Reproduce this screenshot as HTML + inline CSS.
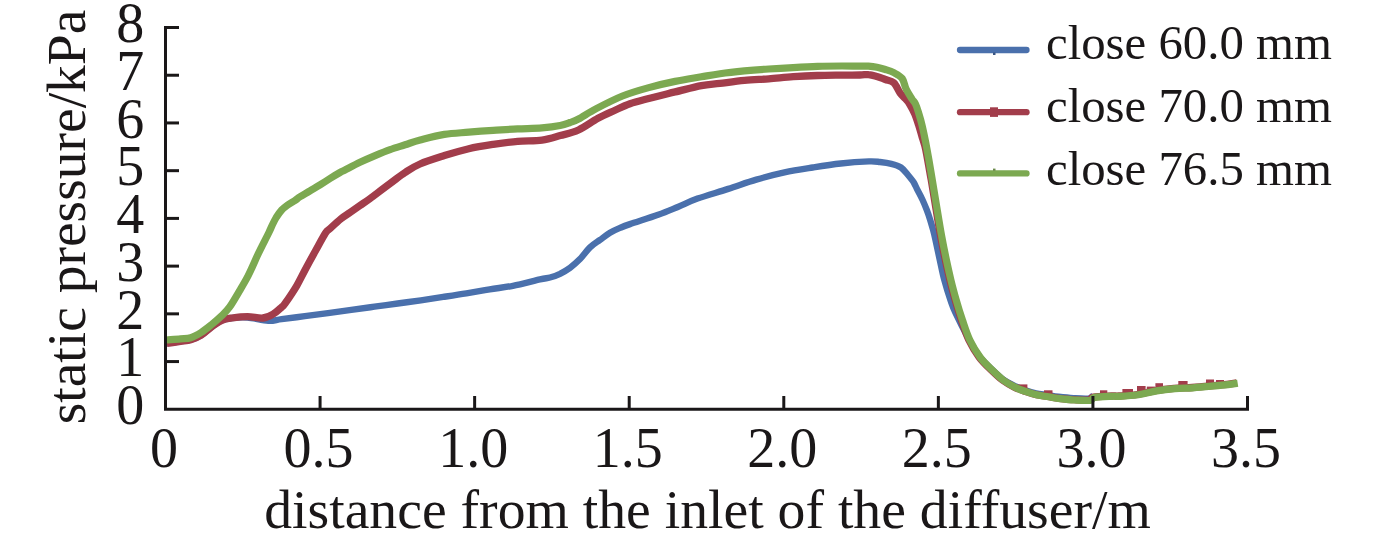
<!DOCTYPE html>
<html><head><meta charset="utf-8"><style>
html,body{margin:0;padding:0;background:#fff;width:1378px;height:533px;overflow:hidden}
svg{display:block}
text{font-family:"Liberation Serif",serif;fill:#1a1718}
</style></head><body>
<svg width="1378" height="533" viewBox="0 0 1378 533">
<g fill="none" stroke-linejoin="round" stroke-linecap="butt" stroke-width="7">
<path stroke="#4a70ac" stroke-width="6.4" d="M166.8,343.5 C169.1,343.1 176.5,342.0 180.5,341.4 C184.5,340.8 187.4,340.8 190.8,339.8 C194.2,338.8 197.7,337.3 201.1,335.2 C204.5,333.1 207.9,329.5 211.4,327.0 C214.9,324.5 218.4,321.8 221.8,320.3 C225.2,318.8 227.8,318.5 232.1,318.0 C236.4,317.5 241.6,317.0 247.6,317.5 C253.6,318.0 262.5,320.5 268.2,320.8 C273.9,321.1 275.5,319.9 281.6,319.1 C287.7,318.3 297.1,317.2 304.8,316.2 C312.5,315.2 320.2,314.2 328.0,313.1 C335.8,312.0 343.6,310.9 351.3,309.8 C359.1,308.7 366.8,307.8 374.5,306.7 C382.2,305.6 390.0,304.6 397.7,303.5 C405.4,302.4 413.3,301.4 420.9,300.3 C428.5,299.2 435.6,298.0 443.2,296.9 C450.8,295.8 458.6,294.7 466.4,293.4 C474.1,292.1 481.9,290.6 489.7,289.3 C497.4,288.0 504.5,287.5 512.9,285.8 C521.3,284.1 533.8,280.8 540.0,279.4 C546.2,278.0 546.7,278.4 550.0,277.5 C553.3,276.6 556.7,275.4 560.0,273.8 C563.3,272.1 566.7,270.2 570.0,267.8 C573.3,265.3 576.7,262.5 580.0,259.1 C583.3,255.7 586.7,250.6 590.0,247.4 C593.3,244.2 596.7,242.3 600.0,239.9 C603.3,237.5 606.7,234.8 610.0,232.8 C613.3,230.8 616.7,229.3 620.0,227.9 C623.3,226.5 623.6,226.3 630.0,224.1 C636.4,221.9 650.1,217.7 658.1,214.8 C666.1,212.0 671.2,209.7 677.8,207.0 C684.4,204.3 689.1,201.6 697.5,198.6 C705.9,195.6 718.4,192.1 728.2,188.9 C738.0,185.8 746.9,182.4 756.3,179.7 C765.7,176.9 775.1,174.4 784.5,172.4 C793.9,170.4 803.3,169.0 812.7,167.5 C822.1,166.0 831.4,164.5 840.8,163.5 C850.2,162.5 862.5,161.7 869.0,161.4 C875.5,161.2 876.3,161.6 880.0,162.0 C883.7,162.4 887.8,162.9 891.3,163.8 C894.8,164.7 898.2,165.6 901.0,167.5 C903.8,169.4 905.9,172.5 908.0,175.0 C910.1,177.5 912.2,180.0 913.8,182.5 C915.3,185.0 916.0,187.1 917.5,190.0 C919.0,192.9 921.1,196.7 922.6,200.0 C924.1,203.3 925.5,206.7 926.8,210.0 C928.1,213.3 929.2,216.7 930.2,220.0 C931.2,223.3 932.2,226.7 933.1,230.0 C934.0,233.3 934.4,235.0 935.5,240.0 C936.6,245.0 938.3,253.3 939.8,260.0 C941.3,266.7 942.5,273.3 944.3,280.0 C946.1,286.7 948.5,294.5 950.4,300.0 C952.3,305.5 952.5,306.6 955.5,313.0 C958.5,319.4 964.4,331.1 968.3,338.2 C972.2,345.3 975.0,350.6 978.8,355.7 C982.6,360.8 987.1,364.8 991.0,368.6 C994.9,372.4 998.5,375.9 1002.2,378.7 C1006.0,381.5 1009.8,383.5 1013.5,385.4 C1017.2,387.3 1021.0,388.6 1024.7,389.9 C1028.5,391.2 1032.2,392.4 1036.0,393.3 C1039.8,394.2 1043.5,394.4 1047.2,395.0 C1051.0,395.6 1054.1,396.3 1058.5,396.8 C1062.9,397.3 1068.5,397.9 1073.5,398.2 C1078.5,398.5 1085.2,399.0 1088.5,398.6 C1091.8,398.2 1092.3,396.1 1093.1,395.6"/>
<path stroke="#a23d4b" stroke-width="7.3" d="M166.8,343.5 C169.1,343.1 176.5,342.0 180.5,341.4 C184.5,340.8 187.4,340.8 190.8,339.8 C194.2,338.8 197.7,337.3 201.1,335.2 C204.5,333.1 207.9,329.5 211.4,327.0 C214.9,324.5 218.4,321.8 221.8,320.3 C225.2,318.8 227.8,318.6 232.1,318.0 C236.4,317.4 242.4,316.7 247.6,316.7 C252.8,316.7 258.7,318.5 263.0,318.0 C267.3,317.5 270.3,315.7 273.4,313.9 C276.5,312.1 279.6,309.0 281.6,307.2 C283.6,305.4 282.8,306.8 285.3,303.2 C287.8,299.6 293.4,291.4 296.7,285.8 C300.0,280.2 302.2,275.3 305.3,269.5 C308.4,263.7 312.0,257.1 315.4,251.0 C318.8,244.9 323.1,236.7 325.5,233.0 C327.9,229.3 327.5,230.9 330.0,228.6 C332.5,226.3 337.4,221.7 340.7,219.0 C344.0,216.3 346.8,214.8 350.0,212.6 C353.2,210.3 356.7,207.8 360.0,205.5 C363.3,203.2 365.0,202.3 370.0,198.6 C375.0,194.9 384.2,187.8 390.1,183.5 C396.0,179.2 400.1,175.8 405.1,172.5 C410.1,169.2 413.4,166.8 420.0,164.0 C426.6,161.2 436.3,158.2 444.4,155.6 C452.5,153.0 460.7,150.6 468.8,148.7 C476.9,146.8 485.1,145.6 493.2,144.4 C501.3,143.2 509.5,142.0 517.6,141.3 C525.7,140.6 534.9,141.1 542.0,140.1 C549.1,139.1 554.1,137.3 560.2,135.6 C566.3,133.9 572.2,132.9 578.5,130.0 C584.8,127.1 592.0,121.5 598.0,118.3 C604.0,115.0 609.2,112.9 614.5,110.5 C619.8,108.1 624.3,105.8 630.0,103.8 C635.7,101.8 641.3,100.5 648.8,98.5 C656.3,96.5 666.3,94.1 675.1,91.9 C683.9,89.8 693.9,87.0 701.4,85.6 C708.9,84.2 712.8,84.3 720.0,83.4 C727.2,82.5 736.3,81.2 744.4,80.4 C752.5,79.6 760.7,79.4 768.8,78.8 C776.9,78.2 785.1,77.2 793.2,76.7 C801.3,76.2 809.5,75.8 817.6,75.5 C825.7,75.2 834.9,75.2 842.0,75.1 C849.1,75.0 855.6,75.1 860.0,75.0 C864.4,74.9 865.6,74.3 868.4,74.6 C871.2,74.8 874.1,75.7 876.9,76.5 C879.7,77.3 882.5,78.5 885.3,79.5 C888.1,80.5 891.3,80.5 893.8,82.8 C896.3,85.0 898.1,90.3 900.1,93.0 C902.1,95.7 904.0,97.1 905.6,98.9 C907.2,100.7 908.1,101.5 909.6,104.0 C911.1,106.5 913.2,110.3 914.7,113.8 C916.2,117.3 917.3,120.9 918.6,125.0 C919.9,129.1 921.4,134.4 922.6,138.6 C923.8,142.8 924.4,143.2 925.8,150.0 C927.2,156.8 929.7,171.4 931.2,179.7 C932.6,188.0 933.4,193.0 934.5,199.7 C935.6,206.4 936.7,213.0 937.8,219.7 C938.9,226.4 940.0,233.0 941.3,239.7 C942.5,246.4 943.9,253.0 945.3,259.7 C946.7,266.4 948.2,273.0 949.8,279.7 C951.4,286.4 953.2,293.0 955.1,299.7 C957.0,306.4 959.0,313.0 961.3,319.7 C963.6,326.4 965.7,333.4 968.7,339.7 C971.7,345.9 975.4,352.1 979.2,357.2 C983.0,362.3 987.5,366.3 991.4,370.1 C995.3,373.9 998.9,377.4 1002.6,380.2 C1006.4,383.0 1010.1,385.0 1013.9,386.9 C1017.6,388.8 1021.4,390.1 1025.1,391.4 C1028.9,392.7 1032.7,393.9 1036.4,394.8 C1040.2,395.7 1043.9,395.9 1047.6,396.5 C1051.4,397.1 1054.5,397.8 1058.9,398.3 C1063.3,398.8 1068.9,399.4 1073.9,399.7 C1078.9,400.0 1085.6,400.5 1088.9,400.1 C1092.2,399.7 1089.7,397.8 1093.5,397.1 C1097.3,396.4 1107.3,396.2 1111.5,396.0 C1115.7,395.8 1114.6,396.2 1118.9,396.0 C1123.2,395.8 1131.1,395.4 1137.2,394.5 C1143.3,393.6 1149.4,391.6 1155.5,390.6 C1161.6,389.6 1167.7,388.9 1173.8,388.4 C1179.9,387.9 1186.0,387.9 1192.1,387.5 C1198.2,387.1 1204.3,386.5 1210.4,385.9 C1216.5,385.3 1224.3,384.6 1228.7,384.1 C1233.1,383.6 1235.3,383.1 1236.6,382.9"/>
<g fill="#a23d4b" stroke="none"><rect x="1044" y="390.3" width="8.5" height="8"/><rect x="1100" y="390.3" width="7.3" height="8"/><rect x="1122.4" y="389" width="10.6" height="8"/><rect x="1137" y="386" width="8.6" height="8"/><rect x="1146.8" y="386.6" width="8.2" height="8"/><rect x="1155.4" y="383.2" width="7.6" height="8"/><rect x="1178.3" y="381" width="9.3" height="8"/><rect x="1206" y="379.5" width="8.0" height="8"/><rect x="1216" y="380" width="8.0" height="8"/><rect x="1018.4" y="384.4" width="9.0" height="8"/></g>
<path stroke="#7ca951" stroke-width="7.2" d="M166.8,340.0 C169.1,339.8 176.5,339.3 180.5,338.9 C184.5,338.5 187.4,338.8 190.8,337.7 C194.2,336.6 197.7,334.6 201.1,332.5 C204.5,330.4 207.9,327.6 211.4,324.8 C214.9,322.0 218.8,318.6 221.8,315.7 C224.8,312.8 226.6,311.2 229.5,307.2 C232.4,303.1 236.1,296.7 239.2,291.4 C242.3,286.1 245.3,281.2 248.2,275.6 C251.1,270.0 254.4,262.2 256.5,257.6 C258.6,253.1 258.8,252.5 260.9,248.3 C263.0,244.1 267.0,236.4 268.9,232.5 C270.8,228.6 271.1,227.5 272.3,225.0 C273.5,222.5 274.7,220.0 276.2,217.5 C277.8,215.0 279.8,212.1 281.7,210.0 C283.6,207.9 285.3,206.7 287.5,205.1 C289.7,203.5 292.9,201.9 295.0,200.5 C297.1,199.1 297.5,198.4 300.0,196.8 C302.5,195.2 306.7,192.9 310.0,190.9 C313.3,188.9 316.7,187.0 320.0,184.9 C323.3,182.8 326.7,180.6 330.0,178.5 C333.3,176.4 337.5,173.9 340.0,172.5 C342.5,171.1 341.7,171.7 345.0,170.0 C348.3,168.3 355.0,164.7 360.0,162.3 C365.0,159.9 370.1,157.7 375.1,155.6 C380.1,153.5 385.1,151.4 390.1,149.6 C395.1,147.8 400.1,146.4 405.1,144.8 C410.1,143.2 413.6,141.7 420.2,140.0 C426.8,138.3 436.3,135.7 444.4,134.4 C452.5,133.1 460.7,132.9 468.8,132.2 C476.9,131.5 485.1,130.9 493.2,130.4 C501.3,129.9 509.5,129.3 517.6,128.9 C525.7,128.5 534.9,128.5 542.0,127.9 C549.1,127.3 555.5,126.4 560.2,125.5 C564.9,124.6 567.0,123.6 570.0,122.5 C573.0,121.4 574.1,121.3 578.5,119.0 C582.9,116.7 589.0,112.4 596.3,108.6 C603.6,104.8 613.8,99.5 622.5,96.0 C631.2,92.5 640.0,90.0 648.8,87.6 C657.6,85.2 666.3,83.2 675.1,81.4 C683.9,79.6 693.9,78.1 701.4,76.8 C708.9,75.5 712.8,74.7 720.0,73.7 C727.2,72.7 736.3,71.7 744.4,70.9 C752.5,70.1 760.7,69.5 768.8,69.0 C776.9,68.5 785.1,68.0 793.2,67.6 C801.3,67.1 809.5,66.6 817.6,66.3 C825.7,66.0 834.9,66.0 842.0,66.0 C849.1,66.0 855.6,66.2 860.0,66.2 C864.4,66.2 865.6,66.0 868.4,66.2 C871.2,66.4 874.1,66.7 876.9,67.2 C879.7,67.8 882.5,68.6 885.3,69.5 C888.1,70.4 891.0,71.2 893.8,72.7 C896.6,74.2 900.2,75.8 902.2,78.5 C904.2,81.2 904.4,85.4 906.0,88.8 C907.6,92.2 910.3,96.4 911.9,98.9 C913.5,101.4 914.3,101.5 915.5,104.0 C916.7,106.5 917.8,110.3 918.9,113.8 C920.0,117.3 921.0,120.6 922.0,125.0 C923.0,129.4 924.1,134.2 925.2,140.0 C926.4,145.8 927.7,153.3 928.9,160.0 C930.1,166.7 931.2,173.3 932.3,180.0 C933.4,186.7 934.5,193.3 935.6,200.0 C936.7,206.7 937.8,213.3 938.9,220.0 C940.0,226.7 941.1,233.3 942.4,240.0 C943.6,246.7 945.0,253.3 946.4,260.0 C947.8,266.7 949.3,273.3 950.9,280.0 C952.5,286.7 954.3,293.3 956.2,300.0 C958.1,306.7 960.1,313.3 962.4,320.0 C964.7,326.7 966.8,333.8 969.8,340.0 C972.8,346.2 976.5,352.4 980.3,357.5 C984.1,362.6 988.6,366.6 992.5,370.4 C996.4,374.2 1000.0,377.7 1003.7,380.5 C1007.5,383.3 1011.2,385.3 1015.0,387.2 C1018.8,389.1 1022.5,390.4 1026.2,391.7 C1030.0,393.0 1033.8,394.2 1037.5,395.1 C1041.2,396.0 1045.0,396.2 1048.7,396.8 C1052.5,397.4 1055.6,398.1 1060.0,398.6 C1064.4,399.1 1070.0,399.7 1075.0,400.0 C1080.0,400.3 1086.7,400.8 1090.0,400.4 C1093.3,400.0 1090.8,398.1 1094.6,397.4 C1098.4,396.7 1108.4,396.5 1112.6,396.3 C1116.8,396.1 1115.7,396.6 1120.0,396.3 C1124.3,396.1 1132.2,395.7 1138.3,394.8 C1144.4,393.9 1150.5,391.9 1156.6,390.9 C1162.7,389.9 1168.8,389.2 1174.9,388.7 C1181.0,388.2 1187.1,388.2 1193.2,387.8 C1199.3,387.4 1205.4,386.8 1211.5,386.2 C1217.6,385.6 1225.4,384.9 1229.8,384.4 C1234.2,383.9 1236.4,383.4 1237.7,383.2"/>
</g>
<g stroke="#1a1718" stroke-width="3" fill="none">
<polyline points="179,27.5 165.5,27.5 165.5,409.3 1247.5,409.3 1247.5,396"/>
<line x1="165.5" y1="361.57" x2="179" y2="361.57"/><line x1="165.5" y1="313.85" x2="179" y2="313.85"/><line x1="165.5" y1="266.12" x2="179" y2="266.12"/><line x1="165.5" y1="218.40" x2="179" y2="218.40"/><line x1="165.5" y1="170.68" x2="179" y2="170.68"/><line x1="165.5" y1="122.95" x2="179" y2="122.95"/><line x1="165.5" y1="75.23" x2="179" y2="75.23"/><line x1="165.5" y1="27.50" x2="179" y2="27.50"/><line x1="320.07" y1="409.3" x2="320.07" y2="396"/><line x1="474.64" y1="409.3" x2="474.64" y2="396"/><line x1="629.21" y1="409.3" x2="629.21" y2="396"/><line x1="783.79" y1="409.3" x2="783.79" y2="396"/><line x1="938.36" y1="409.3" x2="938.36" y2="396"/><line x1="1092.93" y1="409.3" x2="1092.93" y2="396"/><line x1="1247.50" y1="409.3" x2="1247.50" y2="396"/>
</g>
<g font-size="56" text-anchor="end"><text x="144.3" y="424.06">0</text><text x="144.3" y="376.34">1</text><text x="144.3" y="328.62">2</text><text x="144.3" y="280.90">3</text><text x="144.3" y="233.18">4</text><text x="144.3" y="185.46">5</text><text x="144.3" y="137.74">6</text><text x="144.3" y="90.02">7</text><text x="144.3" y="42.30">8</text></g>
<g font-size="56" text-anchor="middle"><text x="164.00" y="467.3">0</text><text x="318.57" y="467.3">0.5</text><text x="473.14" y="467.3">1.0</text><text x="627.71" y="467.3">1.5</text><text x="782.29" y="467.3">2.0</text><text x="936.86" y="467.3">2.5</text><text x="1091.43" y="467.3">3.0</text><text x="1246.00" y="467.3">3.5</text></g>
<text font-size="55.7" text-anchor="middle" x="707.5" y="528.3">distance from the inlet of the diffuser/m</text>
<text font-size="55.5" text-anchor="middle" transform="translate(84.5,217) rotate(-90)">static pressure/kPa</text>
<g stroke-width="6.3" stroke-linecap="round">
<line x1="960" y1="50" x2="1026.5" y2="50" stroke="#4a70ac"/>
<line x1="960" y1="112.2" x2="1026.5" y2="112.2" stroke="#a23d4b"/>
<rect x="990" y="107.3" width="8" height="9.6" fill="#a23d4b" stroke="none"/>
<rect x="993" y="52.5" width="2.5" height="2.5" fill="#3a5683" stroke="none"/>
<line x1="960" y1="173.4" x2="1026.5" y2="173.4" stroke="#7ca951"/>
<rect x="993" y="168.6" width="2.5" height="2.2" fill="#6b8a4a" stroke="none"/>
</g>
<g font-size="48.8">
<text x="1046" y="58.9">close 60.0 mm</text>
<text x="1046" y="122.3">close 70.0 mm</text>
<text x="1046" y="184.8">close 76.5 mm</text>
</g>
</svg>
</body></html>
